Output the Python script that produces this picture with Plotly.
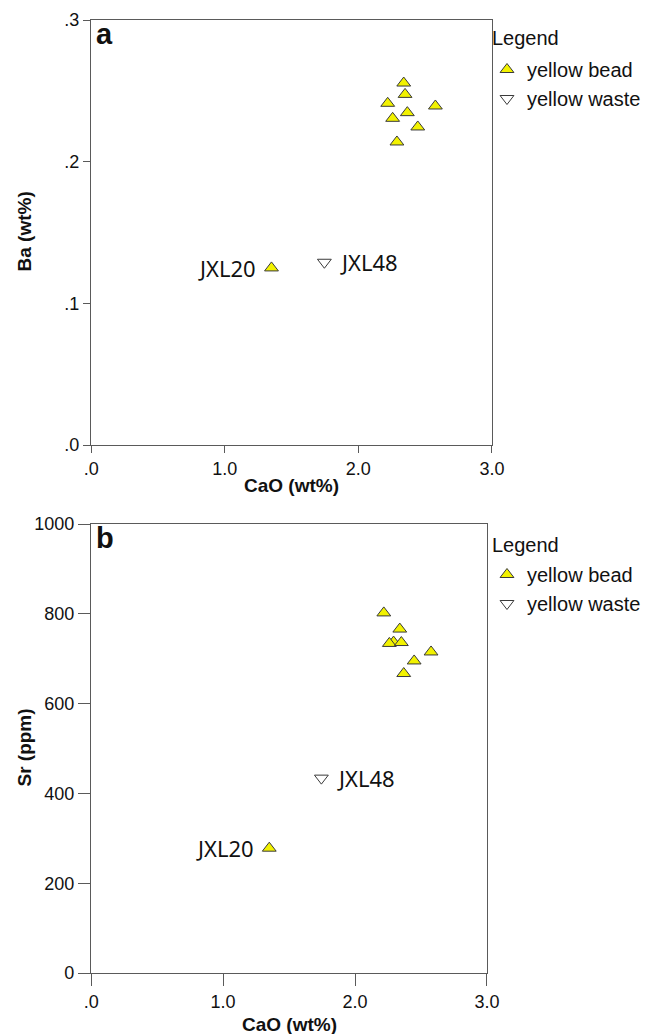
import plotly.graph_objects as go

# Panel a: Ba vs CaO
bead_cao_a = [2.34, 2.35, 2.22, 2.577, 2.367, 2.257, 2.445, 2.289, 1.35]
bead_ba = [0.2555, 0.2475, 0.2412, 0.2393, 0.2346, 0.2306, 0.2245, 0.2139, 0.125]
waste_cao_a = [1.746]
waste_ba = [0.129]

# Panel b: Sr vs CaO
bead_cao_b = [2.218, 2.339, 2.292, 2.26, 2.351, 2.576, 2.448, 2.369, 1.35]
bead_sr = [802, 766, 737, 734, 736, 715, 695, 667, 278]
waste_cao_b = [1.745]
waste_sr = [434]

x_ticks = [0, 1, 2, 3]
x_ticktext = [".0", "1.0", "2.0", "3.0"]
ya_ticks = [0, 0.1, 0.2, 0.3]
ya_ticktext = [".0", ".1", ".2", ".3"]
yb_ticks = [0, 200, 400, 600, 800, 1000]

YELLOW = "#f2f200"
EDGE = "#3a3a3a"
W, H = 646, 1034


def px(xp):
    return xp / W


def py(yp):
    return 1 - yp / H


fig = go.Figure()

bead_marker = dict(symbol="triangle-up", size=12, color=YELLOW, line=dict(color=EDGE, width=1))
waste_marker = dict(symbol="triangle-down", size=12, color="white", line=dict(color=EDGE, width=1))

fig.add_trace(go.Scatter(x=bead_cao_a, y=bead_ba, mode="markers", marker=bead_marker,
                         name="yellow bead", xaxis="x", yaxis="y", legend="legend"))
fig.add_trace(go.Scatter(x=waste_cao_a, y=waste_ba, mode="markers", marker=waste_marker,
                         name="yellow waste", xaxis="x", yaxis="y", legend="legend"))
fig.add_trace(go.Scatter(x=bead_cao_b, y=bead_sr, mode="markers", marker=bead_marker,
                         name="yellow bead", xaxis="x2", yaxis="y2", legend="legend2"))
fig.add_trace(go.Scatter(x=waste_cao_b, y=waste_sr, mode="markers", marker=waste_marker,
                         name="yellow waste", xaxis="x2", yaxis="y2", legend="legend2"))

TICKFONT = dict(family="Liberation Sans, Arial", size=18, color="#111")


def axis(**kw):
    d = dict(showline=True, mirror=True, linecolor="#5a5a5a", linewidth=1.3,
             ticks="outside", tickcolor="#5a5a5a", tickwidth=1.3, showgrid=False,
             zeroline=False, tickfont=TICKFONT, automargin=False)
    d.update(kw)
    return d


LEGFONT = dict(family="Liberation Sans, Arial", size=20, color="#111")

fig.update_layout(
    width=W, height=H,
    margin=dict(l=0, r=0, t=0, b=0),
    paper_bgcolor="white", plot_bgcolor="white",
    xaxis=axis(domain=[px(93), px(502)], range=[0, 3], anchor="y", ticklen=7,
               tickvals=x_ticks, ticktext=x_ticktext),
    yaxis=axis(domain=[py(445), py(20)], range=[0, 0.3], anchor="x", ticklen=7,
               tickvals=ya_ticks, ticktext=ya_ticktext),
    xaxis2=axis(domain=[px(93), px(497)], range=[0, 3], anchor="y2", ticklen=12,
                tickvals=x_ticks, ticktext=x_ticktext),
    yaxis2=axis(domain=[py(973), py(524)], range=[0, 1000], anchor="x2", ticklen=12,
                tickvals=yb_ticks),
    legend=dict(x=px(497), y=py(50), xanchor="left", yanchor="top",
                font=LEGFONT, bgcolor="rgba(0,0,0,0)", itemwidth=30, tracegroupgap=0),
    legend2=dict(x=px(497), y=py(555), xanchor="left", yanchor="top",
                 font=LEGFONT, bgcolor="rgba(0,0,0,0)", itemwidth=30, tracegroupgap=0),
    showlegend=True,
)

# Legend titles
for yp in (38, 545):
    fig.add_annotation(x=px(500), y=py(yp), xref="paper", yref="paper", text="Legend",
                       showarrow=False, xanchor="left", yanchor="middle", font=LEGFONT)

# Axis titles
TITLEFONT = dict(family="Liberation Sans, Arial", size=19, color="#111")
fig.add_annotation(x=px(297), y=py(486), xref="paper", yref="paper", text="<b>CaO (wt%)</b>",
                   showarrow=False, xanchor="center", yanchor="middle", font=TITLEFONT)
fig.add_annotation(x=px(295), y=py(1024), xref="paper", yref="paper", text="<b>CaO (wt%)</b>",
                   showarrow=False, xanchor="center", yanchor="middle", font=TITLEFONT)
fig.add_annotation(x=px(24), y=py(232), xref="paper", yref="paper", text="<b>Ba (wt%)</b>",
                   showarrow=False, textangle=-90, xanchor="center", yanchor="middle", font=TITLEFONT)
fig.add_annotation(x=px(24), y=py(748), xref="paper", yref="paper", text="<b>Sr (ppm)</b>",
                   showarrow=False, textangle=-90, xanchor="center", yanchor="middle", font=TITLEFONT)

lab_font = dict(family="Noto Sans, Open Sans", size=22, color="#111")
annots = [
    dict(x=bead_cao_a[-1], y=bead_ba[-1], xref="x", yref="y", text="JXL20", xanchor="right", xshift=-13),
    dict(x=waste_cao_a[0], y=waste_ba[0], xref="x", yref="y", text="JXL48", xanchor="left", xshift=14),
    dict(x=bead_cao_b[-1], y=bead_sr[-1], xref="x2", yref="y2", text="JXL20", xanchor="right", xshift=-13),
    dict(x=waste_cao_b[0], y=waste_sr[0], xref="x2", yref="y2", text="JXL48", xanchor="left", xshift=14),
]
for a in annots:
    fig.add_annotation(showarrow=False, font=lab_font, yanchor="middle", **a)

panel_font = dict(family="Liberation Sans, Arial", size=29, color="#111")
fig.add_annotation(x=0, y=0.3, xref="x", yref="y", text="<b>a</b>", showarrow=False,
                   xanchor="left", yanchor="top", xshift=3, yshift=4, font=panel_font)
fig.add_annotation(x=0, y=1000, xref="x2", yref="y2", text="<b>b</b>", showarrow=False,
                   xanchor="left", yanchor="top", xshift=3, yshift=4, font=panel_font)

# remove the browser's default body margin so the figure sits at the page origin
fig.write_html("out.html",
               config={"displayModeBar": False},
               post_script="document.body.style.margin='0';document.body.style.overflow='hidden';")
